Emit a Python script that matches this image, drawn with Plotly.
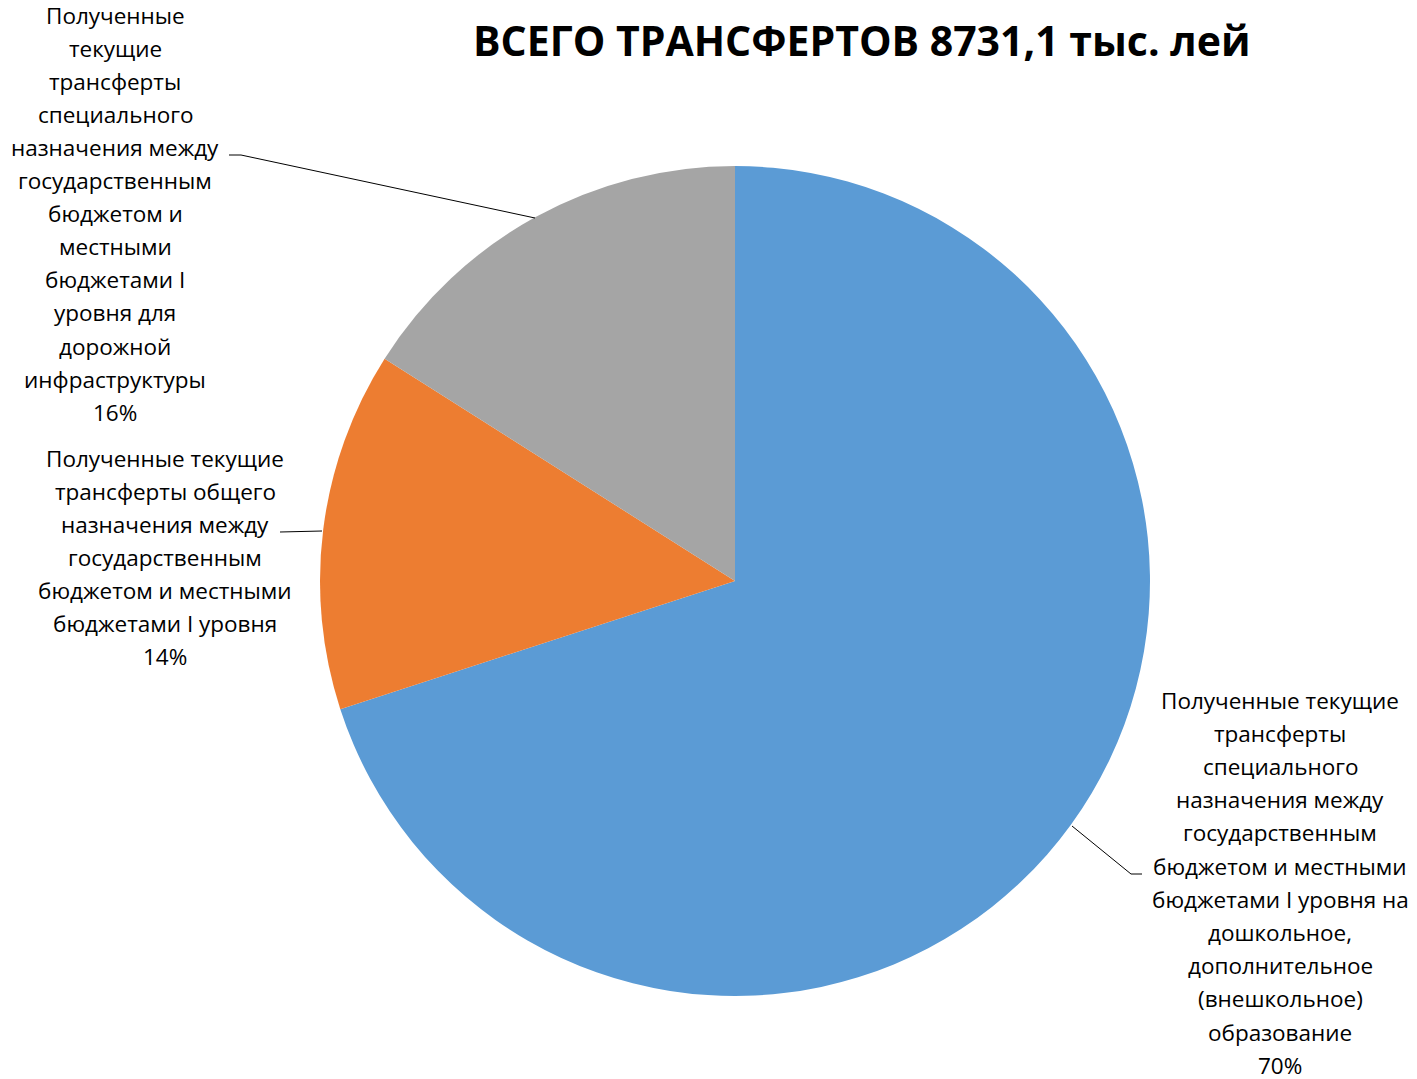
import plotly.graph_objects as go

W, H = 1417, 1079
OFF = 8  # page body margin offset

categories = [
    "Полученные текущие трансферты специального назначения между государственным бюджетом и местными бюджетами I уровня на дошкольное, дополнительное (внешкольное) образование",
    "Полученные текущие трансферты общего назначения между государственным бюджетом и местными бюджетами I уровня",
    "Полученные текущие трансферты специального назначения между государственным бюджетом и местными бюджетами I уровня для дорожной инфраструктуры",
]
values = [70, 14, 16]
pct_labels = ["70%", "14%", "16%"]
colors = ["#5B9BD5", "#ED7D31", "#A5A5A5"]
title_text = "ВСЕГО ТРАНСФЕРТОВ 8731,1 тыс. лей"

label_lines = [
    ["Полученные текущие", "трансферты", "специального", "назначения между", "государственным",
     "бюджетом и местными", "бюджетами I уровня на", "дошкольное,", "дополнительное",
     "(внешкольное)", "образование"],
    ["Полученные текущие", "трансферты общего", "назначения между", "государственным",
     "бюджетом и местными", "бюджетами I уровня"],
    ["Полученные", "текущие", "трансферты", "специального", "назначения между",
     "государственным", "бюджетом и", "местными", "бюджетами I", "уровня для",
     "дорожной", "инфраструктуры"],
]

def px(x):
    return (x - OFF) / W

def py(y):
    return 1 - (y - OFF) / H

# label block layout: (center x, first line y, line spacing)
label_pos = [(1280, 700, 33.2), (165, 458, 33.0), (115, 15, 33.1)]
# leader lines (pixel coords)
leaders = [
    [(1142, 874), (1131, 874), (1072, 826)],
    [(280, 532), (322, 531)],
    [(229, 155), (241, 155), (535, 218)],
]

fig = go.Figure()
fig.add_trace(go.Pie(
    labels=categories,
    values=values,
    sort=False,
    direction="clockwise",
    rotation=0,
    marker=dict(colors=colors, line=dict(width=0)),
    textinfo="none",
    showlegend=False,
    domain=dict(x=[px(320), px(1150)], y=[py(997), py(165)]),
))

font_family = "Open Sans, Noto Sans, sans-serif"
annotations = []
for lines, pct, (cx, y0, dy) in zip(label_lines, pct_labels, label_pos):
    for i, t in enumerate(lines + [pct]):
        annotations.append(dict(
            x=px(cx), y=py(y0 + i * dy), xref="paper", yref="paper",
            text=t, showarrow=False, xanchor="center", yanchor="middle",
            font=dict(family=font_family, size=22.5, color="#000000"),
        ))

annotations.append(dict(
    x=px(861), y=py(40), xref="paper", yref="paper", text="<b>" + title_text + "</b>",
    showarrow=False, xanchor="center", yanchor="middle",
    font=dict(family=font_family, size=41, color="#000000"),
))

shapes = []
for pts in leaders:
    path = "M " + " L ".join(f"{px(x)} {py(y)}" for x, y in pts)
    shapes.append(dict(type="path", path=path, xref="paper", yref="paper",
                       line=dict(color="#000000", width=1)))

fig.update_layout(
    width=W, height=H,
    margin=dict(l=0, r=0, t=0, b=0),
    paper_bgcolor="white", plot_bgcolor="white",
    annotations=annotations,
    shapes=shapes,
)

fig.write_html("out.html")
